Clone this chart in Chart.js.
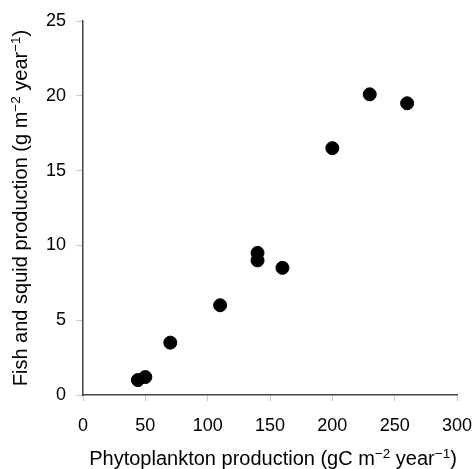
<!DOCTYPE html>
<html>
<head>
<meta charset="utf-8">
<script src="https://cdn.jsdelivr.net/npm/chart.js@4/dist/chart.umd.min.js"></script>
<style>
html,body{margin:0;padding:0;background:#fff;}
#wrap{width:473px;height:469px;}
</style>
</head>
<body>
<div id="wrap"><canvas id="c" width="473" height="469"></canvas></div>
<script>
const phytoplankton = [44, 50, 70, 110, 140, 140, 160, 200, 230, 260];
const fishSquid = [1.0, 1.2, 3.5, 6.0, 9.5, 9.0, 8.5, 16.5, 20.1, 19.5];
// axis titles as [text, isSuperscript] segments
const xTitleParts = [['Phytoplankton production (gC m', false], ['\u22122', true], [' year', false], ['\u22121', true], [')', false]];
const yTitleParts = [['Fish and squid production (g m', false], ['\u22122', true], [' year', false], ['\u22121', true], [')', false]];

const points = phytoplankton.map((x, i) => ({x: x, y: fishSquid[i]}));
const FONT = '"Liberation Sans", Arial, sans-serif';
const TITLE_SIZE = 20, SUP_SIZE = 13.5, SUP_RISE = 7;

function drawParts(ctx, parts) {
  let total = 0;
  const widths = parts.map(([t, sup]) => {
    ctx.font = (sup ? SUP_SIZE : TITLE_SIZE) + 'px ' + FONT;
    const w = ctx.measureText(t).width;
    total += w;
    return w;
  });
  let x = -total / 2;
  parts.forEach(([t, sup], i) => {
    ctx.font = (sup ? SUP_SIZE : TITLE_SIZE) + 'px ' + FONT;
    ctx.fillText(t, x, sup ? -SUP_RISE : 0);
    x += widths[i];
  });
}

const titlePlugin = {
  id: 'richTitles',
  afterDraw(chart) {
    const ctx = chart.ctx;
    const ca = chart.chartArea;
    ctx.save();
    ctx.fillStyle = '#000';
    ctx.textBaseline = 'alphabetic';
    ctx.textAlign = 'left';
    // x title
    ctx.save();
    ctx.translate((ca.left + ca.right) / 2 + 3, 465);
    drawParts(ctx, xTitleParts);
    ctx.restore();
    // y title
    ctx.save();
    ctx.translate(27, (ca.top + ca.bottom) / 2);
    ctx.rotate(-Math.PI / 2);
    drawParts(ctx, yTitleParts);
    ctx.restore();
    ctx.restore();
  }
};

new Chart(document.getElementById('c'), {
  type: 'scatter',
  data: {
    datasets: [{
      data: points,
      backgroundColor: '#000',
      borderColor: '#000',
      pointRadius: 6.5,
      pointHoverRadius: 6.5
    }]
  },
  options: {
    responsive: false,
    devicePixelRatio: 1,
    animation: false,
    events: [],
    layout: {padding: {top: 21, right: 16, left: 0, bottom: 0}},
    plugins: {legend: {display: false}, tooltip: {enabled: false}},
    scales: {
      x: {
        type: 'linear',
        min: 0, max: 300,
        ticks: {stepSize: 50, color: '#000', font: {family: FONT, size: 18}, padding: 14, maxRotation: 0},
        grid: {drawOnChartArea: false, drawTicks: true, tickLength: 6, color: '#c8c8c8'},
        border: {color: '#444', width: 1.5},
        title: {display: false},
        afterFit: s => { s.height = 74; s.paddingLeft = 0; s.paddingRight = 0; }
      },
      y: {
        type: 'linear',
        min: 0, max: 25,
        ticks: {stepSize: 5, color: '#000', font: {family: FONT, size: 18}, padding: 10},
        grid: {drawOnChartArea: false, drawTicks: true, tickLength: 7, color: '#c8c8c8'},
        border: {color: '#444', width: 1.5},
        title: {display: false},
        afterFit: s => { s.width = 83; s.paddingTop = 0; s.paddingBottom = 0; }
      }
    }
  },
  plugins: [titlePlugin]
});
</script>
</body>
</html>
